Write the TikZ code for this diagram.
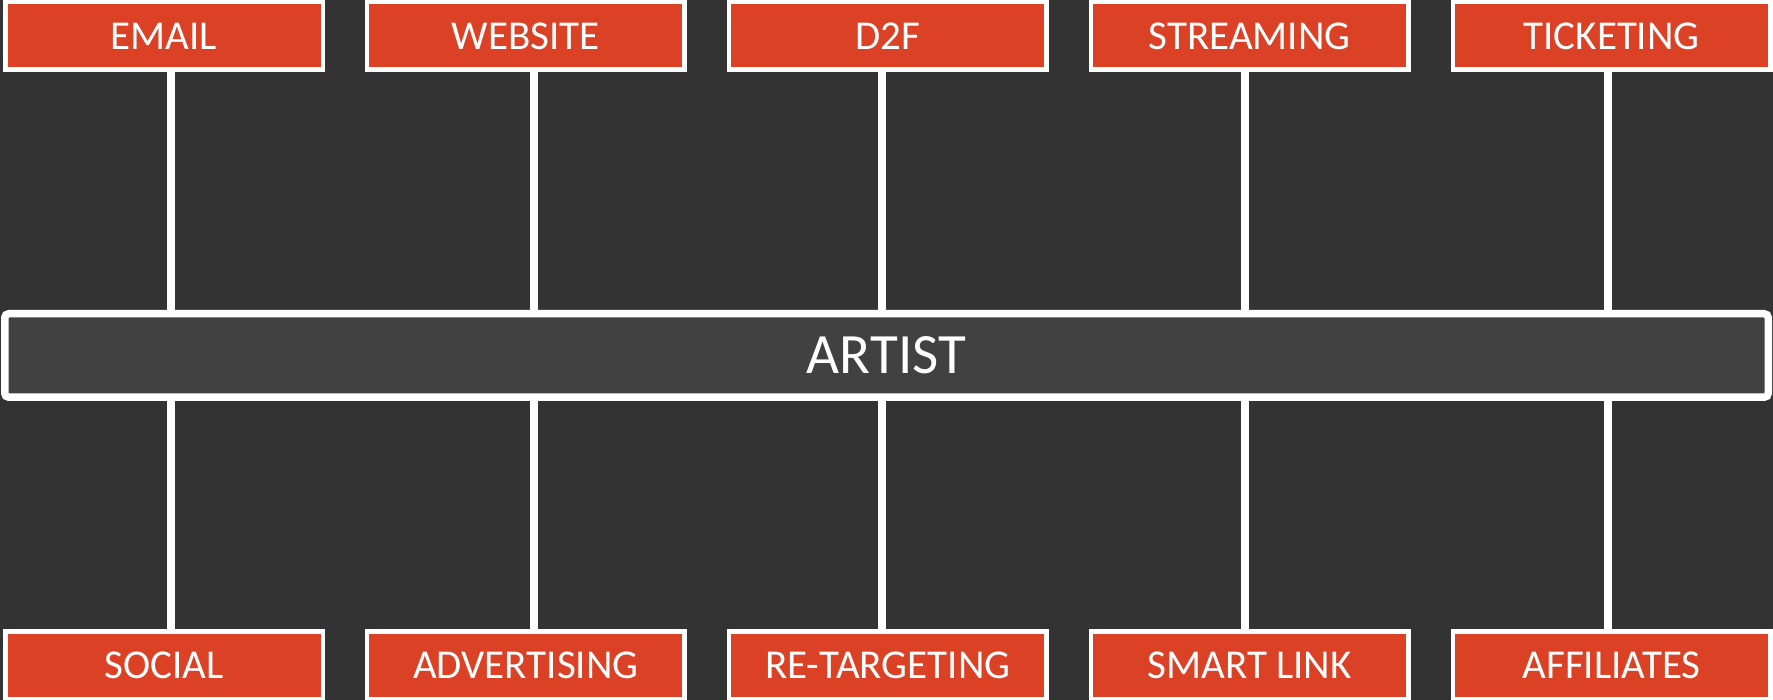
\documentclass[tikz,border=0pt]{standalone}
\usepackage{fontspec}
\setmainfont{Carlito}
\definecolor{bgdark}{HTML}{333333}
\definecolor{bardark}{HTML}{414141}
\definecolor{chanred}{HTML}{DB4125}
\begin{document}
\begin{tikzpicture}[x=1pt,y=-1pt,
  channel/.style={draw=white, line width=4.5pt, fill=chanred, text=white,
    minimum width=317.5pt, minimum height=67.5pt, inner sep=0pt,
    font=\fontsize{41}{41}\selectfont},
  hub/.style={draw=white, line width=7.5pt, fill=bardark, text=white,
    rounded corners=4pt, minimum width=1763.5pt, minimum height=83.5pt,
    inner sep=0pt, font=\fontsize{57}{57}\selectfont},
  link/.style={draw=white, line width=8pt}]
\useasboundingbox (0,0) rectangle (1773,700);
\fill[bgdark] (0,0) rectangle (1773,700);

% central bar
\node[hub] (artist) at (886.5,355.5) {ARTIST};

% top row of channels
\node[channel] (email)     at (164,36)    {EMAIL};
\node[channel] (website)   at (525.9,36)  {WEBSITE};
\node[channel] (dtf)       at (887.8,36)  {D2F};
\node[channel] (streaming) at (1249.7,36) {STREAMING};
\node[channel] (ticketing) at (1611.6,36) {TICKETING};

% bottom row of channels
\node[channel] (social)      at (164,665)    {SOCIAL};
\node[channel] (advertising) at (525.9,665)  {ADVERTISING};
\node[channel] (retargeting) at (887.8,665)  {RE-TARGETING};
\node[channel] (smartlink)   at (1249.7,665) {SMART LINK};
\node[channel] (affiliates)  at (1611.6,665) {AFFILIATES};

% x positions of the connecting spokes
\coordinate (s1) at (171,0);
\coordinate (s2) at (534,0);
\coordinate (s3) at (882,0);
\coordinate (s4) at (1245,0);
\coordinate (s5) at (1608,0);

% spokes from the top channels down to the bar
\draw[link] (email.south -| s1)     -- (artist.north -| s1);
\draw[link] (website.south -| s2)   -- (artist.north -| s2);
\draw[link] (dtf.south -| s3)       -- (artist.north -| s3);
\draw[link] (streaming.south -| s4) -- (artist.north -| s4);
\draw[link] (ticketing.south -| s5) -- (artist.north -| s5);

% spokes from the bar down to the bottom channels
\draw[link] (artist.south -| s1) -- (social.north -| s1);
\draw[link] (artist.south -| s2) -- (advertising.north -| s2);
\draw[link] (artist.south -| s3) -- (retargeting.north -| s3);
\draw[link] (artist.south -| s4) -- (smartlink.north -| s4);
\draw[link] (artist.south -| s5) -- (affiliates.north -| s5);
\end{tikzpicture}
\end{document}
